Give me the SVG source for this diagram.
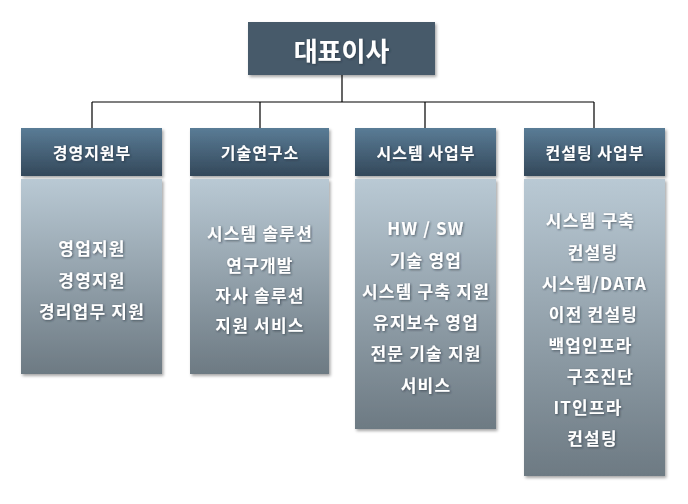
<svg xmlns="http://www.w3.org/2000/svg" width="688" height="504" viewBox="0 0 688 504">
<defs>
<linearGradient id="hdr" x1="0" y1="0" x2="0" y2="1">
<stop offset="0" stop-color="#5a7c96"/>
<stop offset="1" stop-color="#33485a"/>
</linearGradient>
<linearGradient id="body" x1="0" y1="0" x2="0" y2="1">
<stop offset="0" stop-color="#b9c9d4"/>
<stop offset="1" stop-color="#6d7a83"/>
</linearGradient>
<filter id="shadow" x="-10%" y="-10%" width="125%" height="130%">
<feDropShadow dx="1.5" dy="2" stdDeviation="1.5" flood-color="#000" flood-opacity="0.35"/>
</filter>
<filter id="tshadow" x="-10%" y="-20%" width="130%" height="150%">
<feDropShadow dx="1" dy="1" stdDeviation="0.8" flood-color="#1c2730" flood-opacity="0.6"/>
</filter>
</defs>
<style>
text{font-family:"Noto Sans CJK KR","Noto Sans",sans-serif;font-weight:bold;fill:#ffffff;text-anchor:middle;dominant-baseline:central;filter:url(#tshadow)}
.t0{font-size:26px}
.t1{font-size:16px;letter-spacing:1px}
.t2{font-size:17px;letter-spacing:1.2px}
.hd{fill:url(#hdr);filter:url(#shadow)}
.bd{fill:url(#body);filter:url(#shadow)}
.ln{stroke:#000;stroke-width:1.2;fill:none}
</style>
<rect width="688" height="504" fill="#ffffff"/>
<g id="connectors">
<path class="ln" d="M342,75 V102 M92,102 H594 M92,102 V128 M260,102 V128 M425,102 V128 M594,102 V128"/>
</g>
<g id="ceo">
<rect x="248" y="22" width="187" height="53" fill="#465a6a" filter="url(#shadow)"/>
<text class="t0" x="341.5" y="49">대표이사</text>
</g>
<g id="dept1">
<rect class="hd" x="21" y="128" width="141" height="48"/>
<rect class="bd" x="21" y="179" width="141" height="195"/>
<text class="t1" x="92" y="152">경영지원부</text>
<text class="t2" x="92" y="247">영업지원</text>
<text class="t2" x="92" y="279">경영지원</text>
<text class="t2" x="92" y="310">경리업무 지원</text>
</g>
<g id="dept2">
<rect class="hd" x="190" y="128" width="139" height="48"/>
<rect class="bd" x="190" y="179" width="139" height="195"/>
<text class="t1" x="260" y="152">기술연구소</text>
<text class="t2" x="260" y="232">시스템 솔루션</text>
<text class="t2" x="260" y="264">연구개발</text>
<text class="t2" x="260" y="294">자사 솔루션</text>
<text class="t2" x="260" y="324">지원 서비스</text>
</g>
<g id="dept3">
<rect class="hd" x="355" y="128" width="141" height="48"/>
<rect class="bd" x="355" y="179" width="141" height="250"/>
<text class="t1" x="426" y="152">시스템 사업부</text>
<text class="t2" x="426" y="227">HW / SW</text>
<text class="t2" x="426" y="259">기술 영업</text>
<text class="t2" x="426" y="290">시스템 구축 지원</text>
<text class="t2" x="426" y="321">유지보수 영업</text>
<text class="t2" x="426" y="352">전문 기술 지원</text>
<text class="t2" x="426" y="384">서비스</text>
</g>
<g id="dept4">
<rect class="hd" x="524" y="128" width="141" height="48"/>
<rect class="bd" x="524" y="179" width="141" height="297"/>
<text class="t1" x="595" y="152">컨설팅 사업부</text>
<text class="t2" x="590.5" y="219">시스템 구축</text>
<text class="t2" x="593" y="251">컨설팅</text>
<text class="t2" x="594.5" y="282">시스템/DATA</text>
<text class="t2" x="593.5" y="313">이전 컨설팅</text>
<text class="t2" x="590.5" y="344">백업인프라</text>
<text class="t2" x="600.5" y="375">구조진단</text>
<text class="t2" x="588" y="406">IT인프라</text>
<text class="t2" x="592.5" y="437">컨설팅</text>
</g>
</svg>
